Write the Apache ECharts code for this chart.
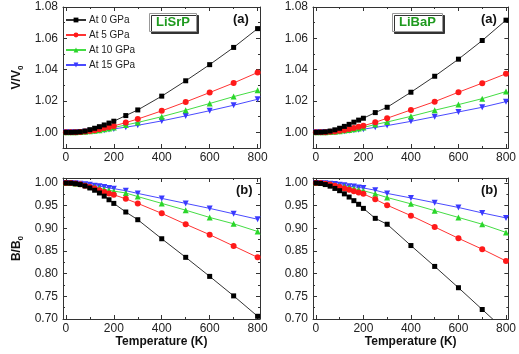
<!DOCTYPE html>
<html>
<head>
<meta charset="utf-8">
<script src="https://cdn.jsdelivr.net/npm/echarts@6/dist/echarts.min.js"></script>
<style>
    html, body { margin: 0; padding: 0; background: #fff; }
    #main { width: 519px; height: 354px; }
</style>
</head>
<body>
<div id="main"></div>
<script type="text/javascript">
    var temps = [0, 20, 40, 60, 80, 100, 120, 140, 160, 180, 200, 250, 300, 400, 500, 600, 700, 800];
    var pressureNames = ['At 0 GPa', 'At 5 GPa', 'At 10 GPa', 'At 15 GPa'];

    // LiSrP V/V0
    var lisrpV0 = [1.0000, 1.0000, 1.0001, 1.0003, 1.0008, 1.0017, 1.0026, 1.0036, 1.0047, 1.0059, 1.0071, 1.0107, 1.0143, 1.0231, 1.0329, 1.0432, 1.0542, 1.0662];
    var lisrpV5 = [1.0000, 1.0000, 1.0001, 1.0002, 1.0005, 1.0009, 1.0014, 1.0020, 1.0027, 1.0034, 1.0041, 1.0062, 1.0085, 1.0137, 1.0194, 1.0254, 1.0315, 1.0382];
    var lisrpV10 = [1.0000, 1.0000, 1.0000, 1.0002, 1.0004, 1.0007, 1.0010, 1.0014, 1.0019, 1.0025, 1.0031, 1.0047, 1.0063, 1.0100, 1.0141, 1.0184, 1.0228, 1.0268];
    var lisrpV15 = [1.0000, 1.0000, 1.0000, 1.0001, 1.0003, 1.0005, 1.0008, 1.0011, 1.0014, 1.0018, 1.0022, 1.0033, 1.0045, 1.0073, 1.0105, 1.0138, 1.0173, 1.0211];

    // LiBaP V/V0
    var libapV0 = [1.0000, 1.0001, 1.0003, 1.0008, 1.0016, 1.0026, 1.0038, 1.0051, 1.0065, 1.0078, 1.0090, 1.0126, 1.0160, 1.0256, 1.0358, 1.0467, 1.0586, 1.0716];
    var libapV5 = [1.0000, 1.0000, 1.0001, 1.0003, 1.0006, 1.0010, 1.0015, 1.0021, 1.0028, 1.0035, 1.0042, 1.0064, 1.0090, 1.0143, 1.0196, 1.0256, 1.0314, 1.0374];
    var libapV10 = [1.0000, 1.0000, 1.0000, 1.0002, 1.0004, 1.0007, 1.0011, 1.0015, 1.0020, 1.0025, 1.0031, 1.0050, 1.0066, 1.0102, 1.0141, 1.0177, 1.0215, 1.0260];
    var libapV15 = [1.0000, 1.0000, 1.0000, 1.0001, 1.0003, 1.0005, 1.0007, 1.0010, 1.0013, 1.0017, 1.0020, 1.0032, 1.0043, 1.0070, 1.0100, 1.0130, 1.0160, 1.0196];

    // LiSrP B/B0
    var lisrpB0 = [1.000, 0.9997, 0.9985, 0.9965, 0.9934, 0.989, 0.984, 0.978, 0.971, 0.963, 0.955, 0.936, 0.919, 0.877, 0.836, 0.794, 0.751, 0.706];
    var lisrpB5 = [1.000, 0.9997, 0.9988, 0.997, 0.994, 0.991, 0.988, 0.984, 0.980, 0.977, 0.974, 0.965, 0.955, 0.933, 0.909, 0.886, 0.861, 0.836];
    var lisrpB10 = [1.000, 0.9998, 0.999, 0.9975, 0.9955, 0.993, 0.991, 0.989, 0.986, 0.984, 0.982, 0.978, 0.970, 0.955, 0.940, 0.924, 0.910, 0.893];
    var lisrpB15 = [1.000, 0.9999, 0.9994, 0.9985, 0.997, 0.996, 0.994, 0.993, 0.991, 0.989, 0.9875, 0.983, 0.977, 0.966, 0.955, 0.944, 0.932, 0.920];

    // LiBaP B/B0
    var libapB0 = [1.000, 0.999, 0.9965, 0.993, 0.988, 0.983, 0.976, 0.969, 0.961, 0.953, 0.944, 0.922, 0.909, 0.862, 0.816, 0.769, 0.721, 0.673];
    var libapB5 = [1.000, 0.9997, 0.9985, 0.9965, 0.994, 0.991, 0.988, 0.985, 0.982, 0.979, 0.976, 0.964, 0.951, 0.928, 0.903, 0.878, 0.854, 0.828];
    var libapB10 = [1.000, 0.9998, 0.999, 0.9975, 0.9955, 0.994, 0.992, 0.990, 0.988, 0.985, 0.983, 0.976, 0.968, 0.954, 0.939, 0.924, 0.909, 0.891];
    var libapB15 = [1.000, 0.9999, 0.9994, 0.9985, 0.9975, 0.996, 0.995, 0.993, 0.992, 0.990, 0.989, 0.984, 0.977, 0.967, 0.9565, 0.946, 0.934, 0.923];

    // tick values
    var xMajor = [0, 200, 400, 600, 800];
    var xMinor = [100, 300, 500, 700];
    var vMajor = [1.00, 1.02, 1.04, 1.06, 1.08];
    var vMinor = [0.99, 1.01, 1.03, 1.05, 1.07];
    var bMajor = [0.70, 0.75, 0.80, 0.85, 0.90, 0.95, 1.00];
    var bMinor = [0.725, 0.775, 0.825, 0.875, 0.925, 0.975];

    var panels = [
        {grid: {left: 63, top: 7, width: 197, height: 141}, ymin: 0.99, ymax: 1.08, major: vMajor, minor: vMinor,
            data: [lisrpV0, lisrpV5, lisrpV10, lisrpV15], yname: 'V/V{s|0}', xname: ''},
        {grid: {left: 313, top: 7, width: 199, height: 141}, ymin: 0.99, ymax: 1.08, major: vMajor, minor: vMinor,
            data: [libapV0, libapV5, libapV10, libapV15], yname: '', xname: ''},
        {grid: {left: 63, top: 178, width: 197, height: 141}, ymin: 0.70, ymax: 1.011, major: bMajor, minor: bMinor,
            data: [lisrpB0, lisrpB5, lisrpB10, lisrpB15], yname: 'B/B{s|0}', xname: 'Temperature (K)'},
        {grid: {left: 313, top: 178, width: 199, height: 141}, ymin: 0.70, ymax: 1.011, major: bMajor, minor: bMinor,
            data: [libapB0, libapB5, libapB10, libapB15], yname: '', xname: 'Temperature (K)'}
    ];

    var colors = ['#000000', '#ff1a1a', '#2ad62a', '#3a3aff'];
    var lineColors = ['#333333', '#ff3333', '#44dd44', '#4a4aff'];
    var symbols = ['rect', 'circle', 'triangle', 'path://M0,0L10,0L5,9Z'];
    var symbolSizes = [5, 6, 6, 6];

    var XMIN = -12, XMAX = 810;
    var axisColor = '#333';
    var fontFam = 'Liberation Sans, Arial, sans-serif';

    function makeAxis(kind, g, pos, min, max, ticks, len, withLine, labels, name) {
        var ax = {
            type: 'value', gridIndex: g, position: pos, min: min, max: max,
            splitLine: {show: false},
            axisLine: {show: withLine, onZero: false, lineStyle: {color: axisColor, width: 1}},
            axisTick: {show: true, inside: true, length: len, customValues: ticks, lineStyle: {color: axisColor, width: 1}},
            axisLabel: {show: false}
        };
        if (labels) {
            ax.axisLabel = {
                show: true, customValues: labels, color: '#222', fontSize: 12, fontFamily: fontFam,
                margin: kind === 'x' ? 4 : 5,
                formatter: function (v) {
                    return kind === 'x' ? String(Math.round(v)) : v.toFixed(2);
                }
            };
        }
        if (name) {
            ax.name = name;
            ax.nameLocation = 'middle';
            ax.nameTextStyle = {
                color: '#111', fontSize: 12, fontWeight: 'bold', fontFamily: fontFam,
                rich: {s: {fontSize: 8, fontWeight: 'bold', fontFamily: fontFam, color: '#111', lineHeight: 8, padding: [7, 0, 0, 0]}}
            };
            if (kind === 'x') {
                ax.nameGap = 17;
            } else {
                ax.nameRotate = 90;
                ax.nameGap = 40;
            }
        }
        return ax;
    }

    var grids = [], xAxes = [], yAxes = [], series = [];
    panels.forEach(function (p, g) {
        grids.push(p.grid);
        // bottom / top x axes (major + minor ticks)
        xAxes.push(makeAxis('x', g, 'bottom', XMIN, XMAX, xMajor, 4, true, xMajor, p.xname));
        xAxes.push(makeAxis('x', g, 'bottom', XMIN, XMAX, xMinor, 2, false, null, ''));
        xAxes.push(makeAxis('x', g, 'top', XMIN, XMAX, xMajor, 4, true, null, ''));
        xAxes.push(makeAxis('x', g, 'top', XMIN, XMAX, xMinor, 2, false, null, ''));
        // left / right y axes
        yAxes.push(makeAxis('y', g, 'left', p.ymin, p.ymax, p.major, 4, true, p.major, p.yname));
        yAxes.push(makeAxis('y', g, 'left', p.ymin, p.ymax, p.minor, 2, false, null, ''));
        yAxes.push(makeAxis('y', g, 'right', p.ymin, p.ymax, p.major, 4, true, null, ''));
        yAxes.push(makeAxis('y', g, 'right', p.ymin, p.ymax, p.minor, 2, false, null, ''));

        p.data.forEach(function (arr, k) {
            series.push({
                type: 'line',
                name: pressureNames[k],
                xAxisIndex: g * 4,
                yAxisIndex: g * 4,
                data: temps.map(function (t, i) { return [t, arr[i]]; }),
                symbol: symbols[k],
                symbolSize: symbolSizes[k],
                showAllSymbol: true,
                clip: true,
                z: 10 - k,
                itemStyle: {color: colors[k]},
                lineStyle: {color: lineColors[k], width: 1},
                animation: false
            });
        });
    });

    var boxStyle = {
        backgroundColor: '#fff', borderColor: '#999', borderWidth: 1,
        shadowColor: '#333', shadowOffsetX: 2, shadowOffsetY: 2, shadowBlur: 0,
        padding: [3, 7, 3, 7]
    };
    function tag(text, left, top) {
        return {text: text, left: left, top: top, padding: 0,
            textStyle: {fontSize: 13, fontWeight: 'bold', color: '#111', fontFamily: fontFam}};
    }
    function box(text, left, top) {
        return Object.assign({text: text, left: left, top: top,
            textStyle: {fontSize: 13, fontWeight: 'bold', color: '#1f9a1f', fontFamily: fontFam}}, boxStyle);
    }

    var chart = echarts.init(document.getElementById('main'));
    chart.setOption({
        backgroundColor: '#fff',
        animation: false,
        title: [
            box('LiSrP', 149, 13),
            box('LiBaP', 392, 13),
            tag('(a)', 233, 13),
            tag('(a)', 481, 13),
            tag('(b)', 236, 184),
            tag('(b)', 481, 184)
        ],
        legend: {
            data: pressureNames,
            orient: 'vertical',
            left: 65, top: 15,
            itemWidth: 20, itemHeight: 6, itemGap: 5,
            padding: 0,
            textStyle: {fontSize: 10, color: '#222', fontFamily: fontFam, padding: [0, 0, 0, -2]}
        },
        grid: grids,
        xAxis: xAxes,
        yAxis: yAxes,
        series: series
    });
</script>
</body>
</html>
